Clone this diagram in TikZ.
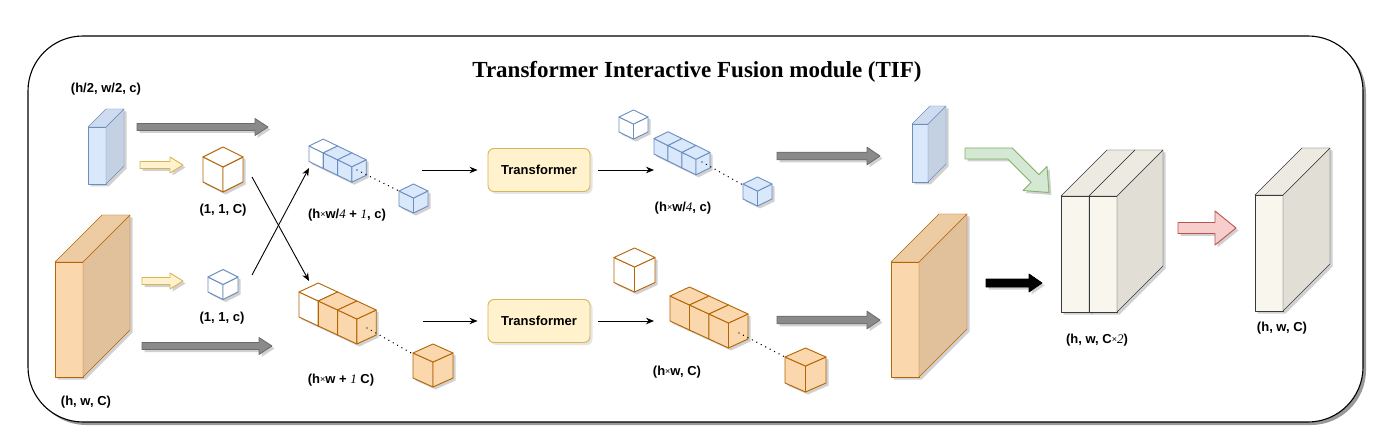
\documentclass[tikz,border=0pt]{standalone}
\usepackage{fontspec}
\setmainfont{Liberation Serif}
\setsansfont{Liberation Sans}
\usetikzlibrary{arrows.meta,shadows}
\definecolor{bfill}{HTML}{DAE8FC}\definecolor{bline}{HTML}{6C8EBF}
\definecolor{ofill}{HTML}{FAD7AC}\definecolor{oline}{HTML}{B46504}
\definecolor{yfill}{HTML}{FFF2CC}\definecolor{yline}{HTML}{D6B656}
\definecolor{gfill}{HTML}{D5E8D4}\definecolor{gline}{HTML}{82B366}
\definecolor{rfill}{HTML}{F8CECC}\definecolor{rline}{HTML}{B85450}
\definecolor{wfill}{HTML}{F9F7ED}\definecolor{wline}{HTML}{36393D}
\definecolor{afill}{HTML}{8A8A8A}\definecolor{aline}{HTML}{6A6A6A}
% shadow of an iso cube
\newcommand{\cubeshd}[5]{\fill[shd] (#1+2.5,#2+2.5) -- ++(#3,-#4) -- ++(#3,#4) -- ++(0,#5) -- ++(-#3,#4) -- ++(-#3,-#4) -- cycle;}
% iso cube: x y (upper-left of left face), w, dy, h, style
\newcommand{\tcube}[6]{%
 \filldraw[#6] (#1,#2) -- ++(#3,#4) -- ++(0,#5) -- ++(-#3,-#4) -- cycle;
 \filldraw[#6] (#1+#3,#2+#4) -- ++(#3,-#4) -- ++(0,#5) -- ++(-#3,#4) -- cycle;
 \filldraw[#6] (#1,#2) -- ++(#3,#4) -- ++(#3,-#4) -- ++(-#3,-#4) -- cycle;}
\newcommand{\scube}[6]{\cubeshd{#1}{#2}{#3}{#4}{#5}\tcube{#1}{#2}{#3}{#4}{#5}{#6}}
\newcommand{\trow}[7]{%
 \cubeshd{#1}{#2}{#3}{#4}{#5}\cubeshd{#1+#3}{#2+#4}{#3}{#4}{#5}\cubeshd{#1+2*#3}{#2+2*#4}{#3}{#4}{#5}%
 \tcube{#1}{#2}{#3}{#4}{#5}{#6}\tcube{#1+#3}{#2+#4}{#3}{#4}{#5}{#7}\tcube{#1+2*#3}{#2+2*#4}{#3}{#4}{#5}{#7}}
% slab: x y (front top-left), wf, hf, d, fill, line
\newcommand{\slab}[7]{%
 \fill[shd] (#1+2.5,#2+2.5) -- ++(#5,-#5) -- ++(#3,0) -- ++(0,#4) -- ++(-#5,#5) -- ++(-#3,0) -- cycle;
 \filldraw[fill=#6, draw=#7] (#1,#2) rectangle ++(#3,#4);
 \filldraw[fill=#6!90!black, draw=#7] (#1+#3,#2) -- ++(#5,-#5) -- ++(0,#4) -- ++(-#5,#5) -- cycle;
 \filldraw[fill=#6!95!black, draw=#7] (#1,#2) -- ++(#5,-#5) -- ++(#3,0) -- ++(-#5,#5) -- cycle;}
% block arrow: x1 x2 yc shafthalf headhalf headlen style
\newcommand{\barrow}[7]{%
 \begin{scope}[shift={(2.5,2.5)}]\fill[shd] (#1,#3-#4) -- (#2-#6,#3-#4) -- (#2-#6,#3-#5) -- (#2,#3) -- (#2-#6,#3+#5) -- (#2-#6,#3+#4) -- (#1,#3+#4) -- cycle;\end{scope}
 \filldraw[#7] (#1,#3-#4) -- (#2-#6,#3-#4) -- (#2-#6,#3-#5) -- (#2,#3) -- (#2-#6,#3+#5) -- (#2-#6,#3+#4) -- (#1,#3+#4) -- cycle;}
\newcommand{\tms}{{\mdseries\fontsize{9}{9}\selectfont\raisebox{0.5pt}{×}}}
\newcommand{\itn}[1]{{\rmfamily\mdseries\itshape #1}}
\begin{document}
\begin{tikzpicture}[x=1pt,y=-1pt,line join=round,
  shd/.style={black,opacity=0.18},
  bc/.style={fill=bfill,draw=bline,line width=0.9pt},
  bw/.style={fill=white,draw=bline,line width=0.9pt},
  oc/.style={fill=ofill,draw=oline,line width=0.9pt},
  ow/.style={fill=white,draw=oline,line width=0.9pt},
  lbl/.style={font=\sffamily\bfseries\fontsize{13}{15}\selectfont,inner sep=0pt},
  tf/.style={draw=yline,fill=yfill,line width=0.9pt,rounded corners=6pt,minimum width=102pt,minimum height=43pt,
    font=\sffamily\bfseries\fontsize{13}{15}\selectfont,drop shadow={opacity=0.2,shadow xshift=2.5pt,shadow yshift=-2.5pt}},
  conn/.style={draw,line width=0.9pt,-{Stealth[length=8pt,width=6.5pt]}},
  dots/.style={draw,line width=1.5pt,line cap=round,dash pattern=on 0.01pt off 5pt},
  garrow/.style={fill=afill,draw=aline,line width=0.8pt},
  yarrow/.style={fill=yfill,draw=yline,line width=0.9pt}]
\useasboundingbox (0,0) rectangle (1383,438);
% outer frame
\fill[black!40,rounded corners=55pt] (31,39) rectangle (1366,425);
\draw[fill=white,line width=1.1pt,rounded corners=55pt] (28,36) rectangle (1363,422);
\node[font=\rmfamily\bfseries\fontsize{23}{26}\selectfont] (title) at (697,72) {Transformer Interactive Fusion module (TIF)};

% left inputs
\node[lbl] (l1) at (106,89) {(h/2, w/2, c)};
\slab{88}{127}{18}{57}{18}{bfill}{bline}
\slab{55}{262}{28}{115}{47}{ofill}{oline}
\node[lbl] (l2) at (86,402) {(h, w, C)};

% arrows from inputs
\barrow{137}{268}{127}{3.5}{8.5}{13}{garrow}
\barrow{142}{272}{346}{3.5}{8.5}{13}{garrow}
\barrow{140}{183}{165}{3.5}{8}{13}{yarrow}
\barrow{142}{183}{281}{3.5}{8}{13}{yarrow}

% class tokens
\scube{203}{157}{20}{10}{25}{ow}
\node[lbl] (l3) at (223,210) {(1, 1, C)};
\scube{208}{277}{15}{7.5}{15}{bw}
\node[lbl] (l4) at (222,318) {(1, 1, c)};

% crossing connectors
\coordinate (xo) at (252,177);
\coordinate (xb) at (252,275);
\coordinate (rowb) at (309,168);
\coordinate (rowo) at (309,281);
\draw[conn] (xo) -- (rowo);
\draw[conn] (xb) -- (rowb);

% input token rows
\trow{309}{146}{14.3}{6.9}{15.5}{bw}{bc}
\coordinate (d1a) at (357,170); \coordinate (d1b) at (399,191);
\draw[dots] (d1a) -- (d1b);
\scube{399}{191}{14.5}{7}{15}{bc}
\node[lbl] (l5) at (347,215) {(h\tms w/\itn{4} + \itn{1}, c)};

\trow{299}{292}{19.3}{9}{25}{ow}{oc}
\coordinate (d2a) at (367,328); \coordinate (d2b) at (413,354);
\draw[dots] (d2a) -- (d2b);
\scube{413}{353}{20}{9}{25}{oc}
\node[lbl] (l6) at (341,380) {(h\tms w + \itn{1} C)};

% transformers
\node[tf] (t1) at (539,170) {Transformer};
\node[tf] (t2) at (539,321) {Transformer};
\coordinate (tin1) at (422,170); \coordinate (tout1) at (654,170);
\coordinate (tin2) at (423,321); \coordinate (tout2) at (654,321);
\draw[conn,shorten >=10pt] (tin1) -- (t1);
\draw[conn,shorten <=8pt] (t1) -- (tout1);
\draw[conn,shorten >=10pt] (tin2) -- (t2);
\draw[conn,shorten <=8pt] (t2) -- (tout2);

% output token rows
\scube{619}{117}{14.5}{7}{15}{bw}
\trow{654}{138.6}{14}{6.9}{15.5}{bc}{bc}
\coordinate (d3a) at (702,162); \coordinate (d3b) at (743,185);
\draw[dots] (d3a) -- (d3b);
\scube{743}{184}{14.5}{7}{15}{bc}
\node[lbl] (l7) at (683,208) {(h\tms w/\itn{4}, c)};

\scube{614}{257.5}{20.5}{9.5}{25}{ow}
\trow{670}{296}{19.5}{9}{25}{oc}{oc}
\coordinate (d4a) at (739,333); \coordinate (d4b) at (785,357);
\draw[dots] (d4a) -- (d4b);
\scube{785}{357}{20.5}{9}{26}{oc}
\node[lbl] (l8) at (677,372) {(h\tms w, C)};

% reshape arrows
\barrow{777}{880}{156}{3.8}{8.8}{13}{garrow}
\barrow{777}{880}{320}{3.8}{8.8}{13}{garrow}

% reshaped maps
\slab{912}{124}{16}{58}{18}{bfill}{bline}
\slab{891}{262}{28}{115}{48}{ofill}{oline}

% green bent arrow
\begin{scope}[shift={(2.5,2.5)}]
\fill[shd] (965,148) -- (1012.3,148) -- (1038.9,174.6) -- (1047,166.5) -- (1049,192.5) -- (1023,190.5) -- (1031.1,182.4) -- (1007.7,159) -- (965,159) -- cycle;
\end{scope}
\filldraw[fill=gfill,draw=gline,line width=0.9pt] (965,148) -- (1012.3,148) -- (1038.9,174.6) -- (1047,166.5) -- (1049,192.5) -- (1023,190.5) -- (1031.1,182.4) -- (1007.7,159) -- (965,159) -- cycle;

% black arrow
\barrow{986}{1042}{283}{4}{9}{13}{fill=black,draw=black,line width=0.8pt}

% concatenated maps
\slab{1061}{196}{28}{116}{46}{wfill}{wline}
\slab{1089}{196}{28}{116}{46}{wfill}{wline}
\node[lbl] (l9) at (1097,340) {(h, w, C\tms\itn{2})};

% pink arrow
\barrow{1178}{1236}{228}{5.5}{17}{21}{fill=rfill,draw=rline,line width=0.9pt}

% output
\slab{1255}{195}{28}{116}{47}{wfill}{wline}
\node[lbl] (l10) at (1282,328) {(h, w, C)};
\end{tikzpicture}
\end{document}
